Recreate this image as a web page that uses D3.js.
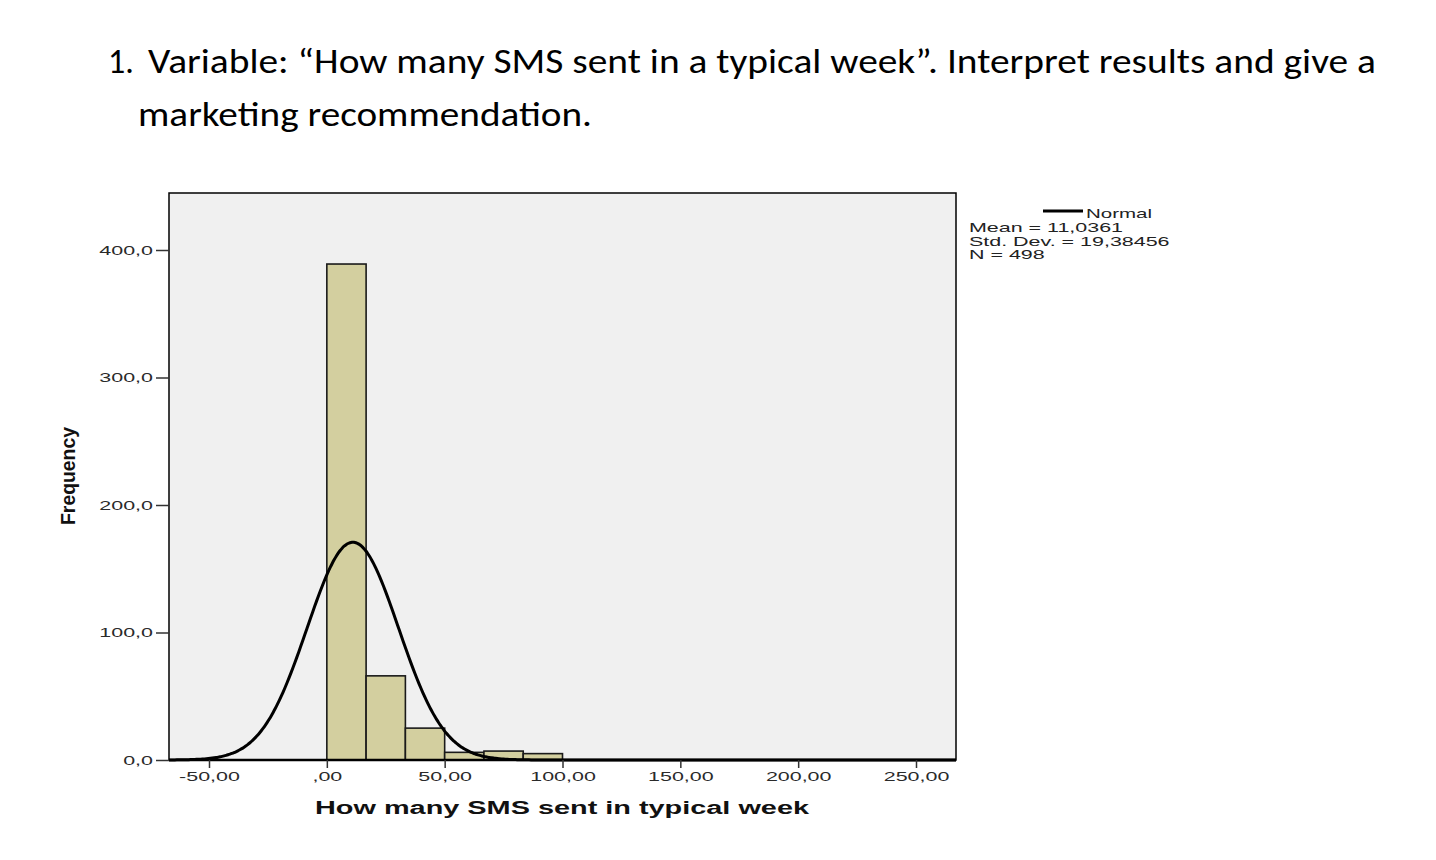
<!DOCTYPE html>
<html><head><meta charset="utf-8">
<script src="https://cdn.jsdelivr.net/npm/d3@7"></script>
<style>
html,body{margin:0;padding:0;background:#fff;}
svg{display:block;}
</style></head>
<body>
<svg id="c" width="1436" height="860"></svg>
<script>
// ---- data ----
const binEdges = [0, 16.667, 33.333, 50, 66.667, 83.333, 100];
const binCounts = [389, 66, 25, 6, 7, 5];
const xTicks = [-50, 0, 50, 100, 150, 200, 250];
const yTicks = [0, 100, 200, 300, 400];
const statMean = 11.0361;
const statSD = 19.38456;
const statN = 498;
const legendLines = ["Mean = 11,0361", "Std. Dev. = 19,38456", "N = 498"];
const titleLines = ["Variable: \u201CHow many SMS sent in a typical week\u201D. Interpret results and give a", "marketing recommendation."];

const svg = d3.select("#c");
const L = 169, R = 956, T = 193, B = 760;
const x = d3.scaleLinear().domain([-50, 250]).range([209, 916]);
const y = d3.scaleLinear().domain([0, 400]).range([B, 250]);
const SPSS_FONT = "'Liberation Sans', Arial, sans-serif";
const K = 1.65; // horizontal stretch of the SPSS text
function stretch(sel, k) {
  sel.each(function () {
    const w = this.getComputedTextLength();
    d3.select(this).attr("textLength", w * k).attr("lengthAdjust", "spacingAndGlyphs");
  });
}

// title
const TF = "Carlito, Lato, 'Open Sans', sans-serif";
svg.append("text").attr("x", 108).attr("y", 73).attr("font-family", TF)
  .attr("font-size", 34).attr("fill", "#000").text("1.");
svg.append("text").attr("x", 148).attr("y", 73).attr("font-family", TF)
  .attr("font-size", 34).attr("fill", "#000").attr("textLength", 1228).attr("lengthAdjust", "spacingAndGlyphs").text(titleLines[0]);
svg.append("text").attr("x", 138).attr("y", 126).attr("font-family", TF)
  .attr("font-size", 34).attr("fill", "#000").attr("textLength", 454).attr("lengthAdjust", "spacingAndGlyphs").text(titleLines[1]);

// plot background
svg.append("rect").attr("x", L).attr("y", T).attr("width", R - L).attr("height", B - T)
  .attr("fill", "#f0f0f0").attr("stroke", "#000").attr("stroke-width", 1.5);

// bars
const bins = binCounts.map((c, i) => ({x0: binEdges[i], x1: binEdges[i + 1], c}));
svg.append("g").selectAll("rect").data(bins).join("rect")
  .attr("x", d => x(d.x0)).attr("width", d => x(d.x1) - x(d.x0))
  .attr("y", d => y(d.c)).attr("height", d => y(0) - y(d.c))
  .attr("fill", "#d3cf9f").attr("stroke", "#1a1a1a").attr("stroke-width", 1.6);

// normal curve from the reported statistics
const bw = binEdges[1] - binEdges[0];
const xMin = x.invert(L), xMax = x.invert(R);
const pts = d3.range(0, 401).map(i => {
  const v = xMin + (xMax - xMin) * i / 400;
  const f = statN * bw / (statSD * Math.sqrt(2 * Math.PI)) * Math.exp(-0.5 * Math.pow((v - statMean) / statSD, 2));
  return [v, f];
});
svg.append("path").datum(pts)
  .attr("d", d3.line().x(d => x(d[0])).y(d => y(d[1])).curve(d3.curveBasis))
  .attr("fill", "none").attr("stroke", "#000").attr("stroke-width", 3);

// x axis line
svg.append("line").attr("x1", L).attr("x2", R).attr("y1", B).attr("y2", B).attr("stroke", "#000").attr("stroke-width", 2.5);

// axes
const fmtX = v => v === 0 ? ",00" : v.toFixed(2).replace(".", ",");
const fmtY = v => v.toFixed(1).replace(".", ",");
const xa = svg.append("g").attr("transform", `translate(0,${B})`)
  .call(d3.axisBottom(x).tickValues(xTicks).tickFormat(fmtX).tickSize(8).tickPadding(4));
xa.select(".domain").remove();
xa.selectAll("line").attr("stroke", "#333").attr("stroke-width", 1.5);
xa.selectAll("text").attr("font-family", SPSS_FONT).attr("font-size", 13).attr("fill", "#2a2a2a").call(stretch, K);

const ya = svg.append("g").attr("transform", `translate(${L},0)`)
  .call(d3.axisLeft(y).tickValues(yTicks).tickFormat(fmtY).tickSize(13).tickPadding(3));
ya.select(".domain").remove();
ya.selectAll("line").attr("stroke", "#333").attr("stroke-width", 1.5);
ya.selectAll("text").attr("font-family", SPSS_FONT).attr("font-size", 13).attr("fill", "#2a2a2a").call(stretch, K);

// axis titles
svg.append("text").attr("x", 562).attr("y", 814).attr("text-anchor", "middle")
  .attr("font-family", SPSS_FONT).attr("font-weight", "bold").attr("font-size", 18)
  .attr("textLength", 494).attr("lengthAdjust", "spacingAndGlyphs").attr("fill", "#111")
  .text("How many SMS sent in typical week");
svg.append("text").attr("transform", "translate(75,476) rotate(-90)").attr("text-anchor", "middle")
  .attr("font-family", "'Liberation Sans Narrow', 'Liberation Sans', Arial, sans-serif").attr("font-weight", "bold")
  .attr("font-size", 20).attr("textLength", 98).attr("lengthAdjust", "spacingAndGlyphs").attr("fill", "#111")
  .text("Frequency");

// legend
svg.append("line").attr("x1", 1043).attr("x2", 1083).attr("y1", 211).attr("y2", 211).attr("stroke", "#000").attr("stroke-width", 3);
svg.append("text").attr("x", 1086).attr("y", 218).attr("font-family", SPSS_FONT)
  .attr("font-size", 13).attr("fill", "#222").text("Normal").attr("textLength", 66).attr("lengthAdjust", "spacingAndGlyphs");
svg.append("g").selectAll("text").data(legendLines).join("text")
  .attr("x", 969).attr("y", (d, i) => 232 + i * 13.5)
  .attr("font-family", SPSS_FONT).attr("font-size", 13)
  .attr("fill", "#222").text(d => d).call(stretch, K);
</script>
</body></html>
